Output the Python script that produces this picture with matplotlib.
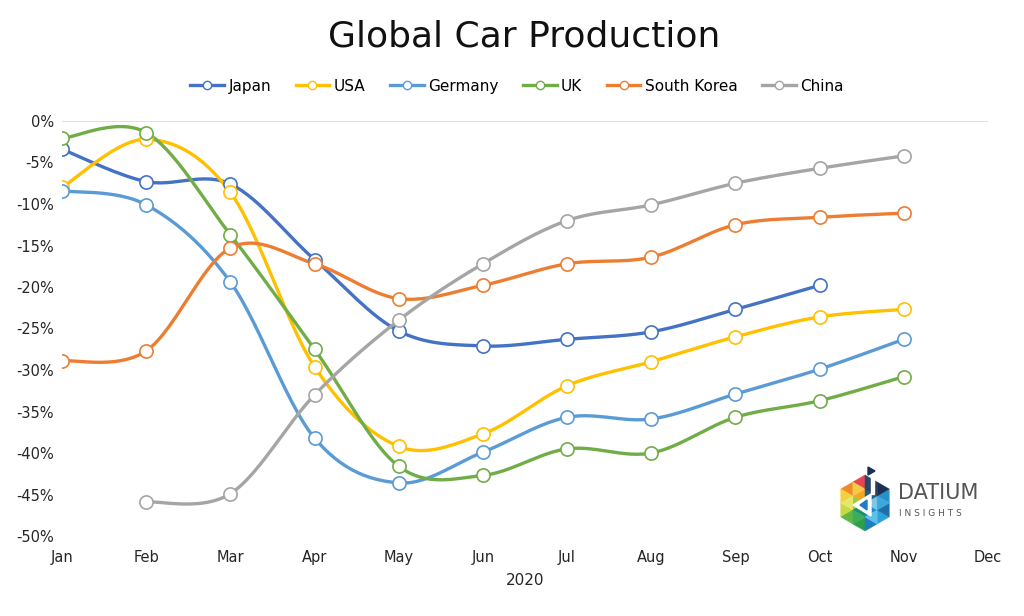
import numpy as np
import matplotlib
matplotlib.use("Agg")
import matplotlib.pyplot as plt
from matplotlib.patches import Polygon
from matplotlib.ticker import FuncFormatter

plt.rcParams['font.family'] = ['DejaVu Sans']

months = ["Jan", "Feb", "Mar", "Apr", "May", "Jun", "Jul", "Aug", "Sep", "Oct", "Nov", "Dec"]
japan = [-3.4, -7.3, -7.6, -16.7, -25.3, -27.1, -26.3, -25.4, -22.7, -19.8, None, None]
usa = [-8.0, -2.2, -8.6, -29.6, -39.2, -37.7, -31.9, -29.0, -26.0, -23.6, -22.7, None]
germany = [-8.4, -10.1, -19.4, -38.2, -43.6, -39.9, -35.7, -35.9, -32.9, -29.9, -26.3, None]
uk = [-2.1, -1.4, -13.7, -27.5, -41.6, -42.7, -39.5, -40.0, -35.7, -33.7, -30.8, None]
south_korea = [-28.9, -27.7, -15.3, -17.2, -21.4, -19.8, -17.2, -16.4, -12.5, -11.6, -11.1, None]
china = [None, -45.9, -44.9, -33.0, -24.0, -17.2, -12.0, -10.1, -7.5, -5.7, -4.2, None]

series = [
    ("Japan", japan, "#4472C4"),
    ("USA", usa, "#FFC000"),
    ("Germany", germany, "#5B9BD5"),
    ("UK", uk, "#70AD47"),
    ("South Korea", south_korea, "#ED7D31"),
    ("China", china, "#A5A5A5"),
]


def smooth(xs, ys, n=30):
    """Catmull-Rom style Bezier smoothing (like Excel smoothed lines)."""
    P = np.column_stack([xs, ys]).astype(float)
    out = []
    m = len(P)
    for i in range(m - 1):
        p0 = P[i - 1] if i > 0 else P[i]
        p1 = P[i]
        p2 = P[i + 1]
        p3 = P[i + 2] if i + 2 < m else P[i + 1]
        c1 = p1 + (p2 - p0) / 6.0
        c2 = p2 - (p3 - p1) / 6.0
        t = np.linspace(0, 1, n)[:, None]
        seg = ((1 - t) ** 3) * p1 + 3 * ((1 - t) ** 2) * t * c1 + 3 * (1 - t) * t ** 2 * c2 + t ** 3 * p2
        out.append(seg if i == 0 else seg[1:])
    out = np.vstack(out)
    return out[:, 0], out[:, 1]


fig = plt.figure(figsize=(10.24, 6.16), dpi=100)
ax = fig.add_axes([62 / 1024, 1 - 536 / 616, (988 - 62) / 1024, (536 - 121) / 616])

x_all = np.arange(len(months))
for name, vals, col in series:
    xs = [x for x, v in zip(x_all, vals) if v is not None]
    ys = [v for v in vals if v is not None]
    sx, sy = smooth(xs, ys)
    ax.plot(sx, sy, color=col, lw=2.4, solid_capstyle='round', zorder=2)
    ax.plot(xs, ys, linestyle='none', marker='o', ms=9.5, mfc='white', mec=col, mew=1.2, zorder=3)
    ax.plot([], [], color=col, lw=2.4, marker='o', ms=6, mfc='white', mec=col, mew=1.0, label=name)

ax.set_xlim(0, 11)
ax.set_ylim(-50, 0)
ax.set_yticks(np.arange(-50, 1, 5))
ax.yaxis.set_major_formatter(FuncFormatter(lambda v, p: f"{int(round(v))}%"))
ax.set_xticks(x_all)
ax.set_xticklabels(months)
ax.axhline(0, color="#D9D9D9", lw=1.2, zorder=1)
for s in ax.spines.values():
    s.set_visible(False)
ax.tick_params(length=0, labelsize=10.5, colors="#262626", pad=6)
ax.tick_params(axis='x', pad=10)
ax.set_xlabel("2020", fontsize=11, color="#262626", labelpad=6)

fig.text(0.512, 0.94, "Global Car Production", ha='center', va='center', fontsize=26, color="#111111")
leg = fig.legend(loc='center', bbox_to_anchor=(0.505, 0.86), ncol=6, frameon=False,
                 fontsize=11, handlelength=2.2, handletextpad=0.3, columnspacing=1.6)

# Logo
lax = fig.add_axes([840 / 1024, 81 / 616, 150 / 1024, 80 / 616])
lax.set_xlim(0, 150)
lax.set_ylim(0, 80)
lax.axis('off')
cx, cy, r = 25, 32, 28
ang = np.deg2rad(90 + 60 * np.arange(6))
verts = [(cx + r * np.cos(a), cy + r * np.sin(a)) for a in ang]
sector_cols = [
    ["#E8434F", "#F08A24", "#F5A623", "#F7C948"],
    ["#F4D03F", "#C9D845", "#A8C83A", "#E3E86A"],
    ["#5FB846", "#2E9E48", "#1E8F6A", "#3AAE59"],
    ["#1D7FBF", "#2BA3D8", "#178CC9", "#5CC0E8"],
    ["#1E6FA8", "#2891C9", "#7CC7E6", "#3CA8DC"],
    ["#1B2F52", "#25496E", "#1F5E86", "#2C3E5C"],
]
C = np.array([cx, cy])
for k in range(6):
    A = np.array(verts[k])
    B = np.array(verts[(k + 1) % 6])
    mAB = (A + B) / 2
    mCA = (C + A) / 2
    mCB = (C + B) / 2
    tris = [[A, mAB, mCA], [mAB, B, mCB], [mCA, mCB, C], [mCA, mAB, mCB]]
    for t, col in zip(tris, sector_cols[k]):
        lax.add_patch(Polygon(t, closed=True, fc=col, ec=col, lw=0.3))
lax.add_patch(Polygon([(cx - 12, cy - 2), (cx + 6, cy + 9), (cx + 6, cy - 13)], closed=True, fc='white', ec='white'))
lax.add_patch(Polygon([(cx - 5, cy - 2), (cx + 2, cy + 3), (cx + 2, cy - 7)], closed=True, fc='#1C7CC4', ec='#1C7CC4'))
lax.add_patch(Polygon([(cx + 6, cy + 9), (cx + 9, cy + 9), (cx + 9, cy + 26), (cx + 6, cy + 26)], closed=True, fc='white', ec='white'))
lax.add_patch(Polygon([(cx + 3, cy + 36), (cx + 3, cy + 28), (cx + 10, cy + 32)], closed=True, fc='#1B2F52', ec='#1B2F52'))
lax.text(58, 42, "DATIUM", fontsize=15, color="#555555", va='center', ha='left')
lax.text(59, 21, "I N S I G H T S", fontsize=6.5, color="#555555", va='center', ha='left')

fig.savefig("out.png", dpi=100)
